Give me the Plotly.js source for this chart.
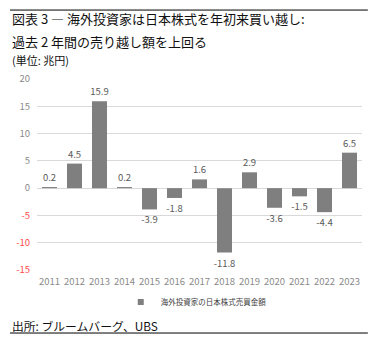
<!DOCTYPE html>
<html><head><meta charset="utf-8">
<script src="https://cdn.plot.ly/plotly-3.0.1.min.js"></script>
<style>html,body{margin:0;padding:0;background:#fff;}#c{width:384px;height:344px;}</style>
</head><body><div id="c"></div>
<script>
const years = ['2011','2012','2013','2014','2015','2016','2017','2018','2019','2020','2021','2022','2023'];
const values = [0.2, 4.5, 15.9, 0.2, -3.9, -1.8, 1.6, -11.8, 2.9, -3.6, -1.5, -4.4, 6.5];
const seriesName = '海外投資家の日本株式売買金額';
const yTicks = [20, 15, 10, 5, 0, -5, -10, -15];
const titleLine1 = '図表 3 ― 海外投資家は日本株式を年初来買い越し:';
const titleLine2 = '過去 2 年間の売り越し額を上回る';
const unitText = '(単位: 兆円)';
const sourceText = '出所: ブルームバーグ、UBS';

const F = '"Noto Sans CJK JP", "Noto Sans", sans-serif';
const tickText = yTicks.map(v => v < 0 ? '<span style="color:#ff4b4b">' + v + '</span>' : String(v));

const bars = {
  type: 'bar', x: years, y: values, name: seriesName,
  marker: {color: '#7f7f7f'},
  text: values.map(v => v.toFixed(1)), textposition: 'outside',
  textfont: {family: F, size: 9.5, color: '#595959'},
  constraintext: 'none',
  cliponaxis: false, width: 0.6, showlegend: false
};
const legendEntry = {
  type: 'scatter', mode: 'markers', x: [null], y: [null], name: seriesName,
  marker: {color: '#7f7f7f', symbol: 'square', size: 6}, showlegend: true
};

const layout = {
  width: 384, height: 344,
  margin: {l: 37, r: 22, t: 79, b: 74},
  paper_bgcolor: '#fff', plot_bgcolor: '#fff',
  font: {family: F},
  xaxis: {type: 'category', tickfont: {family: F, size: 9.5, color: '#8a8a8a'}, showline: false, ticks: '', showgrid: false, zeroline: false, ticklabelstandoff: 4},
  yaxis: {range: [-15, 20], tickvals: yTicks, ticktext: tickText, tickfont: {family: F, size: 9.5, color: '#8a8a8a'},
          showgrid: true, gridcolor: '#d9d9d9', gridwidth: 1, zeroline: true, zerolinecolor: '#d9d9d9', zerolinewidth: 1, ticks: '', ticklen: 0, ticklabelstandoff: 6},
  showlegend: true,
  legend: {orientation: 'h', x: 0.49, xanchor: 'center', y: -0.168, yanchor: 'middle', font: {family: F, size: 7.5, color: '#404040'}, itemwidth: 30, tracegroupgap: 0},
  annotations: [
    {text: titleLine1, xref: 'paper', yref: 'paper', x: -0.083, y: 1.319, xanchor: 'left', yanchor: 'middle', showarrow: false, font: {family: F, size: 13, color: '#111'}},
    {text: titleLine2, xref: 'paper', yref: 'paper', x: -0.083, y: 1.194, xanchor: 'left', yanchor: 'middle', showarrow: false, font: {family: F, size: 13, color: '#111'}},
    {text: unitText, xref: 'paper', yref: 'paper', x: -0.083, y: 1.099, xanchor: 'left', yanchor: 'middle', showarrow: false, font: {family: F, size: 11, color: '#111'}},
    {text: sourceText, xref: 'paper', yref: 'paper', x: -0.083, y: -0.288, xanchor: 'left', yanchor: 'middle', showarrow: false, font: {family: F, size: 11.8, color: '#111'}}
  ],
  shapes: [
    {type: 'line', xref: 'paper', yref: 'paper', x0: -0.083, x1: 1.018, y0: 1.361, y1: 1.361, line: {color: '#000', width: 1}},
    {type: 'line', xref: 'paper', yref: 'paper', x0: -0.083, x1: 1.018, y0: -0.330, y1: -0.330, line: {color: '#000', width: 1}}
  ]
};
Plotly.newPlot('c', [bars, legendEntry], layout, {displayModeBar: false, staticPlot: true});
</script></body></html>
